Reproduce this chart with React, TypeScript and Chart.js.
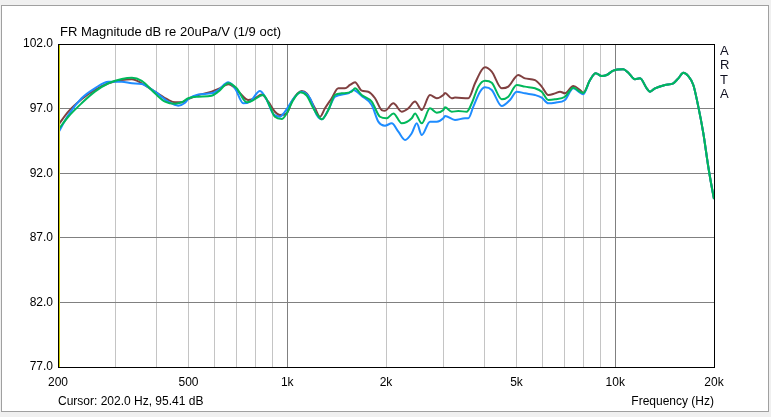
import React, { useEffect, useRef } from "react";
import { Chart, registerables } from "chart.js";

Chart.register(...registerables);

const chartTitle = "FR Magnitude dB re 20uPa/V (1/9 oct)";
const cursorText = "Cursor: 202.0 Hz, 95.41 dB";
const xAxisTitle = "Frequency (Hz)";
const brandLetters = ["A", "R", "T", "A"];

const xGridFreqs = [200, 300, 400, 500, 600, 700, 800, 900, 1000, 2000, 3000, 4000, 5000, 6000, 7000, 8000, 9000, 10000, 20000];
const xLabelFreqs = [200, 500, 1000, 2000, 5000, 10000, 20000];
const xLabelTexts = ["200", "500", "1k", "2k", "5k", "10k", "20k"];
const yTicks = [77, 82, 87, 92, 97, 102];

const brownFreq = [200, 215, 236, 259, 285, 313, 336, 360, 395, 434, 455, 477, 499, 536, 588, 616, 661, 685, 718, 761, 797, 836, 875, 917, 950, 996, 1032, 1107, 1146, 1215, 1259, 1303, 1366, 1431, 1500, 1553, 1609, 1686, 1766, 1852, 1941, 1986, 2106, 2233, 2339, 2452, 2570, 2723, 2856, 2991, 3026, 3172, 3246, 3564, 3736, 3916, 4008, 4202, 4506, 4720, 5062, 5306, 5694, 5968, 6250, 6550, 6786, 7026, 7448, 7808, 7990];
const brownDb = [95.7, 96.76, 97.72, 98.44, 98.96, 99.21, 99.27, 98.96, 98.31, 97.67, 97.49, 97.49, 97.74, 98.05, 98.31, 98.52, 98.88, 98.7, 98.18, 97.67, 97.8, 98.1, 97.54, 96.76, 96.5, 96.63, 97.54, 98.36, 98.18, 97.02, 96.37, 97.02, 97.8, 98.57, 98.57, 98.83, 99.03, 98.39, 98.31, 97.8, 96.89, 96.84, 97.41, 96.76, 97.02, 97.54, 96.89, 98.05, 97.8, 98.05, 98.2, 97.8, 97.85, 97.8, 98.96, 99.99, 100.2, 99.86, 98.57, 98.7, 99.6, 99.34, 99.21, 98.7, 98.05, 98.18, 98.31, 98.18, 98.75, 98.44, 98.23];

const blueFreq = [200, 215, 236, 259, 285, 313, 336, 360, 395, 434, 465, 488, 499, 536, 588, 616, 661, 693, 734, 770, 826, 866, 907, 950, 984, 1056, 1107, 1173, 1230, 1274, 1334, 1398, 1535, 1590, 1686, 1809, 1895, 1986, 2082, 2181, 2286, 2396, 2482, 2570, 2723, 2856, 2991, 3026, 3246, 3482, 3564, 3692, 3870, 4008, 4202, 4506, 4776, 5006, 5306, 5694, 5968, 6250, 6550, 7026, 7448, 7808, 7990];
const blueDb = [95.09, 96.5, 97.8, 98.57, 99.08, 99.08, 98.96, 98.9, 98.31, 97.54, 97.23, 97.45, 97.74, 98.1, 98.18, 98.44, 99.03, 98.57, 97.41, 97.54, 98.36, 97.67, 96.56, 96.37, 96.76, 97.92, 98.31, 97.8, 96.5, 96.17, 96.89, 97.92, 98.18, 98.44, 97.98, 97.28, 95.99, 95.68, 95.86, 95.21, 94.57, 95.09, 95.86, 94.96, 95.99, 95.99, 96.25, 96.43, 96.12, 96.25, 96.25, 97.15, 98.31, 98.65, 98.44, 97.2, 97.67, 98.31, 98.18, 98.05, 97.85, 97.41, 97.46, 97.67, 98.57, 98.23, 98.11];

const greenFreq = [200, 215, 236, 259, 285, 313, 336, 360, 395, 424, 455, 477, 499, 536, 588, 616, 661, 701, 752, 779, 845, 886, 917, 962, 996, 1043, 1094, 1146, 1201, 1259, 1274, 1334, 1398, 1465, 1572, 1609, 1686, 1809, 1917, 2010, 2106, 2233, 2396, 2452, 2570, 2723, 2856, 2991, 3026, 3172, 3322, 3524, 3651, 3824, 4008, 4202, 4506, 4720, 5006, 5306, 5694, 5968, 6250, 6550, 7026, 7448, 7808, 7990];
const greenDb = [95.34, 96.37, 97.41, 98.31, 98.96, 99.29, 99.39, 99.14, 98.18, 97.54, 97.38, 97.49, 97.8, 97.92, 98.0, 98.31, 98.96, 98.57, 97.49, 97.59, 98.05, 97.15, 96.37, 96.2, 96.63, 97.67, 98.26, 98.0, 97.02, 96.25, 96.17, 96.89, 98.05, 98.18, 98.31, 98.57, 98.05, 97.54, 96.37, 96.25, 96.63, 95.86, 96.25, 96.63, 95.86, 97.02, 96.68, 96.89, 97.1, 96.76, 96.81, 96.76, 97.41, 98.7, 99.16, 99.0, 97.72, 97.92, 98.83, 98.7, 98.57, 98.31, 97.67, 97.72, 97.92, 98.62, 98.31, 98.2];

const tailFreq = [8376, 8718, 9094, 9418, 9864, 10582, 10960, 11486, 11898, 12470, 12764, 13220, 14178, 15028, 15568, 16124, 16698, 17298, 17914, 18556, 19214, 19680, 20000];
const tailDb = [99.21, 99.73, 99.52, 99.6, 99.94, 100.04, 99.78, 99.27, 99.34, 98.57, 98.31, 98.57, 98.83, 98.96, 99.34, 99.78, 99.52, 98.83, 97.15, 95.09, 92.5, 90.95, 90.0];

const cursorFreq = 202;

const FONT = '"Liberation Sans", Arial, sans-serif';

function toPoints(freqs: number[], dbs: number[]) {
  const pts = freqs.map((f, i) => ({ x: f, y: dbs[i] }));
  return pts.concat(tailFreq.map((f, i) => ({ x: f, y: tailDb[i] })));
}

const framePlugin = {
  id: "artaFrame",
  beforeDraw(chart: any) {
    const { ctx, width, height } = chart;
    ctx.save();
    ctx.fillStyle = "#f0f0f0";
    ctx.fillRect(0, 0, width, height);
    ctx.fillStyle = "#ffffff";
    ctx.fillRect(1, 5, width - 3, 406);
    ctx.strokeStyle = "#a0a0a0";
    ctx.lineWidth = 1;
    ctx.strokeRect(1.5, 5.5, width - 4, 406);
    ctx.restore();
  },
  afterDraw(chart: any) {
    const { ctx, chartArea } = chart;
    const xs = chart.scales.x;
    ctx.save();
    ctx.strokeStyle = "#000000";
    ctx.lineWidth = 1;
    ctx.strokeRect(
      Math.round(chartArea.left) + 0.5,
      Math.round(chartArea.top) + 0.5,
      Math.round(chartArea.right - chartArea.left),
      Math.round(chartArea.bottom - chartArea.top)
    );
    const cx = Math.round(xs.getPixelForValue(cursorFreq)) + 0.5;
    ctx.strokeStyle = "#c8c800";
    ctx.beginPath();
    ctx.moveTo(cx, chartArea.top + 1);
    ctx.lineTo(cx, chartArea.bottom);
    ctx.stroke();

    ctx.fillStyle = "#000000";
    ctx.textBaseline = "middle";
    ctx.textAlign = "left";
    ctx.font = "13px " + FONT;
    ctx.fillText(chartTitle, 60, 32);
    ctx.font = "12px " + FONT;
    ctx.fillText(cursorText, 58, 402);
    ctx.textAlign = "right";
    ctx.fillText(xAxisTitle, chartArea.right, 402);
    ctx.textAlign = "left";
    ctx.font = "13px " + FONT;
    ctx.fillStyle = "#101020";
    brandLetters.forEach((l, i) => {
      ctx.fillText(l, 720, 51 + i * 14.6);
    });
    ctx.restore();
  },
};

export default function App() {
  const ref = useRef<HTMLCanvasElement | null>(null);

  useEffect(() => {
    document.body.style.margin = "0";
    const canvas = ref.current;
    if (!canvas) return;
    const chart = new Chart(canvas, {
      type: "line",
      data: {
        datasets: [
          {
            label: "green",
            data: toPoints(greenFreq, greenDb),
            borderColor: "#00b85a",
            borderWidth: 2,
            pointRadius: 0,
            cubicInterpolationMode: "monotone",
            order: 0,
          },
          {
            label: "blue",
            data: toPoints(blueFreq, blueDb),
            borderColor: "#1e8cff",
            borderWidth: 2,
            pointRadius: 0,
            cubicInterpolationMode: "monotone",
            order: 1,
          },
          {
            label: "brown",
            data: toPoints(brownFreq, brownDb),
            borderColor: "#804040",
            borderWidth: 2,
            pointRadius: 0,
            cubicInterpolationMode: "monotone",
            order: 2,
          },
        ],
      },
      options: {
        responsive: false,
        animation: false,
        devicePixelRatio: 1,
        layout: { padding: { left: 0, top: 44, right: 57, bottom: 0 } },
        plugins: {
          legend: { display: false },
          tooltip: { enabled: false },
          title: { display: false },
        },
        scales: {
          x: {
            type: "logarithmic",
            min: 200,
            max: 20000,
            afterBuildTicks: (scale: any) => {
              scale.ticks = xGridFreqs.map((v) => ({ value: v }));
            },
            afterFit: (scale: any) => {
              scale.height = 50;
            },
            ticks: {
              autoSkip: false,
              maxRotation: 0,
              padding: 8,
              color: "#000000",
              font: { family: FONT, size: 12 },
              callback: (value: any) => {
                const idx = xLabelFreqs.indexOf(Number(value));
                return idx >= 0 ? xLabelTexts[idx] : "";
              },
            },
            grid: {
              drawTicks: false,
              lineWidth: 1,
              color: (ctx: any) => {
                const v = ctx.tick ? ctx.tick.value : 0;
                return v === 1000 || v === 10000 ? "#808080" : "#c4c4c4";
              },
            },
            border: { display: false },
          },
          y: {
            min: 77,
            max: 102,
            afterBuildTicks: (scale: any) => {
              scale.ticks = yTicks.map((v) => ({ value: v }));
            },
            afterFit: (scale: any) => {
              scale.width = 58;
            },
            ticks: {
              padding: 5,
              color: "#000000",
              font: { family: FONT, size: 12 },
              callback: (value: any) => Number(value).toFixed(1),
            },
            grid: {
              drawTicks: false,
              color: "#808080",
              lineWidth: 1,
            },
            border: { display: false },
          },
        },
      },
      plugins: [framePlugin],
    } as any);
    return () => chart.destroy();
  }, []);

  return (
    <div style={{ width: 771, height: 417 }}>
      <canvas ref={ref} width={771} height={417} style={{ display: "block", width: 771, height: 417 }} />
    </div>
  );
}
